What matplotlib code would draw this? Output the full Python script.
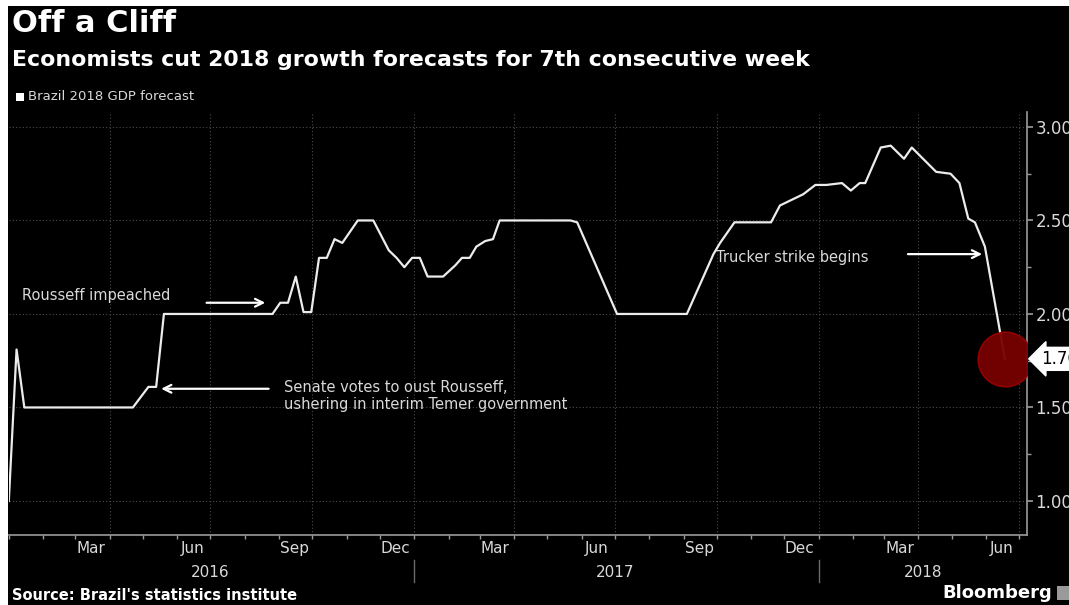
import numpy as np
import pandas as pd
import matplotlib
matplotlib.use("Agg")
import matplotlib.pyplot as plt
import matplotlib.dates as mdates
from matplotlib.patches import Rectangle

# weekly Brazil 2018 GDP forecast
dates = ['2016-01-01', '2016-01-08', '2016-01-15', '2016-04-22', '2016-05-06', '2016-05-13',
         '2016-05-20', '2016-08-26', '2016-09-02', '2016-09-09', '2016-09-16', '2016-09-23',
         '2016-09-30', '2016-10-07', '2016-10-14', '2016-10-21', '2016-10-28', '2016-11-11',
         '2016-11-25', '2016-12-02', '2016-12-09', '2016-12-16', '2016-12-23', '2016-12-30',
         '2017-01-06', '2017-01-13', '2017-01-27', '2017-02-07', '2017-02-13', '2017-02-20',
         '2017-02-26', '2017-03-06', '2017-03-13', '2017-03-19', '2017-05-22', '2017-05-28',
         '2017-07-03', '2017-09-04', '2017-09-28', '2017-10-04', '2017-10-17', '2017-11-19',
         '2017-11-27', '2017-12-04', '2017-12-18', '2017-12-29', '2018-01-08', '2018-01-22',
         '2018-01-30', '2018-02-07', '2018-02-12', '2018-02-26', '2018-03-07', '2018-03-19',
         '2018-03-26', '2018-04-17', '2018-04-30', '2018-05-08', '2018-05-16', '2018-05-22',
         '2018-05-31', '2018-06-18']
forecast = [1.00, 1.81, 1.50, 1.50, 1.61, 1.61,
            2.00, 2.00, 2.06, 2.06, 2.20, 2.01,
            2.01, 2.30, 2.30, 2.40, 2.38, 2.50,
            2.50, 2.42, 2.34, 2.30, 2.25, 2.30,
            2.30, 2.20, 2.20, 2.26, 2.30, 2.30,
            2.36, 2.39, 2.40, 2.50, 2.50, 2.49,
            2.00, 2.00, 2.32, 2.38, 2.49, 2.49,
            2.58, 2.60, 2.64, 2.69, 2.69, 2.70,
            2.66, 2.70, 2.70, 2.89, 2.90, 2.83,
            2.89, 2.76, 2.75, 2.70, 2.51, 2.49,
            2.36, 1.76]

month_labels = ['Mar', 'Jun', 'Sep', 'Dec']
years = ['2016', '2017', '2018']
y_ticks = [1.0, 1.5, 2.0, 2.5, 3.0]

W, H = 1069, 605
fg = '#d9d9d9'
grid_col = '#4a4a4a'

t = pd.to_datetime(dates)

fig = plt.figure(figsize=(W / 100, H / 100), dpi=100)
fig.patch.set_facecolor('black')
# thin white margin on top and left, like the screenshot
fig.patches.append(Rectangle((0, 0), 8 / W, 1, transform=fig.transFigure,
                             facecolor='white', edgecolor='none'))
fig.patches.append(Rectangle((0, 1 - 6 / H), 1, 6 / H, transform=fig.transFigure,
                             facecolor='white', edgecolor='none'))

ax = fig.add_axes([8.8 / W, 1 - 535 / H, (1027 - 8.8) / W, (535 - 112) / H])
ax.set_facecolor('black')

ax.plot(t, forecast, color='#ececec', lw=1.6, zorder=3)
# red dot on latest value
ax.scatter(t[-1:], forecast[-1:], s=1550, color='#780000', edgecolors='#a00000',
           linewidths=1, alpha=0.95, zorder=4)

ax.set_xlim(pd.Timestamp('2016-01-01'), pd.Timestamp('2018-07-08'))
ax.set_ylim(0.818, 3.08)

# axes styling
for s in ['top', 'left']:
    ax.spines[s].set_visible(False)
ax.spines['bottom'].set_color('#9a9a9a')
ax.spines['right'].set_color('#9a9a9a')
ax.spines['bottom'].set_linewidth(1.2)
ax.spines['right'].set_linewidth(1.2)

ax.yaxis.tick_right()
ax.set_yticks(y_ticks)
ax.set_yticklabels(['%.2f' % v for v in y_ticks])
ax.set_yticks(np.arange(1.25, 3.0, 0.5), minor=True)
ax.tick_params(axis='y', which='major', colors='#9a9a9a', labelcolor=fg, labelsize=12,
               length=4, width=1.2, pad=2)
ax.tick_params(axis='y', which='minor', colors='#9a9a9a', length=3, width=1)
for v in y_ticks:
    ax.axhline(v, color=grid_col, lw=0.8, ls=(0, (1, 2)), zorder=1)

# x axis: minor ticks at month starts, labels mid-month
ax.xaxis.set_minor_locator(mdates.MonthLocator())
lab_dates = []
lab_text = []
for yr in years:
    for m, name in zip([3, 6, 9, 12], month_labels):
        d = pd.Timestamp(int(yr), m, 15)
        if d < pd.Timestamp('2018-07-08'):
            lab_dates.append(d)
            lab_text.append(name)
ax.set_xticks(lab_dates)
ax.set_xticklabels(lab_text)
ax.tick_params(axis='x', which='major', length=0, labelcolor=fg, labelsize=11, pad=4)
ax.tick_params(axis='x', which='minor', colors='#9a9a9a', length=3, width=1)

# quarterly vertical gridlines
for q in pd.date_range('2016-04-01', '2018-07-01', freq='QS'):
    ax.axvline(q, color=grid_col, lw=0.8, ls=(0, (1, 2)), zorder=1)

# year labels and separators under the axis
trans = ax.get_xaxis_transform()
year_mid = [pd.Timestamp('2016-07-01'), pd.Timestamp('2017-07-01'), pd.Timestamp('2018-04-05')]
for yr, xm in zip(years, year_mid):
    ax.text(xm, -0.088, yr, transform=trans, ha='center', va='center', color=fg, fontsize=11)
for sep in ['2017-01-01', '2018-01-01']:
    ax.plot([pd.Timestamp(sep)] * 2, [-0.058, -0.11], transform=trans, color='#6a6a6a',
            lw=1, clip_on=False)

# value tag on right axis
ax.annotate('%.2f' % forecast[-1], xy=(1.0, forecast[-1]), xycoords=ax.get_yaxis_transform(),
            xytext=(10, 0), textcoords='offset points',
            ha='left', va='center', fontsize=12, color='black',
            bbox=dict(boxstyle='larrow,pad=0.15', fc='white', ec='white'),
            annotation_clip=False)

# annotations
ann = dict(color=fg, fontsize=10.5)
arrow = dict(arrowstyle='->', color='white', lw=1.6, mutation_scale=14)
ax.text(pd.Timestamp('2016-01-13'), 2.10, 'Rousseff impeached', ha='left', va='center', **ann)
ax.annotate('', xy=(pd.Timestamp('2016-08-22'), 2.06), xytext=(pd.Timestamp('2016-06-25'), 2.06),
            arrowprops=arrow)
ax.annotate('', xy=(pd.Timestamp('2016-05-15'), 1.60), xytext=(pd.Timestamp('2016-08-25'), 1.60),
            arrowprops=arrow)
ax.text(pd.Timestamp('2016-09-05'), 1.56, "Senate votes to oust Rousseff,\nushering in interim Temer government",
        ha='left', va='center', linespacing=1.2, **ann)
ax.text(pd.Timestamp('2017-09-30'), 2.30, 'Trucker strike begins', ha='left', va='center', **ann)
ax.annotate('', xy=(pd.Timestamp('2018-05-31'), 2.32), xytext=(pd.Timestamp('2018-03-20'), 2.32),
            arrowprops=arrow)

# titles
fig.text(12 / W, 1 - 24 / H, 'Off a Cliff', color='white', fontsize=22, fontweight='bold',
         ha='left', va='center')
fig.text(12 / W, 1 - 60 / H, 'Economists cut 2018 growth forecasts for 7th consecutive week',
         color='white', fontsize=15.8, fontweight='bold', ha='left', va='center')
fig.patches.append(Rectangle((16 / W, 1 - 101 / H), 8 / W, 8 / H, transform=fig.transFigure,
                             facecolor='white', edgecolor='none'))
fig.text(28 / W, 1 - 97 / H, 'Brazil 2018 GDP forecast', color=fg, fontsize=9.5,
         ha='left', va='center')

# footer
fig.text(12 / W, 1 - 595 / H, "Source: Brazil's statistics institute", color='white',
         fontsize=10.5, fontweight='bold', ha='left', va='center')
fig.text(1052 / W, 1 - 593 / H, 'Bloomberg', color='white', fontsize=13, fontweight='bold',
         ha='right', va='center')
fig.patches.append(Rectangle((1057 / W, 1 - 600 / H), 12 / W, 14 / H, transform=fig.transFigure,
                             facecolor='#9a9a9a', edgecolor='none'))

fig.savefig('out.png', dpi=100, facecolor=fig.get_facecolor())
